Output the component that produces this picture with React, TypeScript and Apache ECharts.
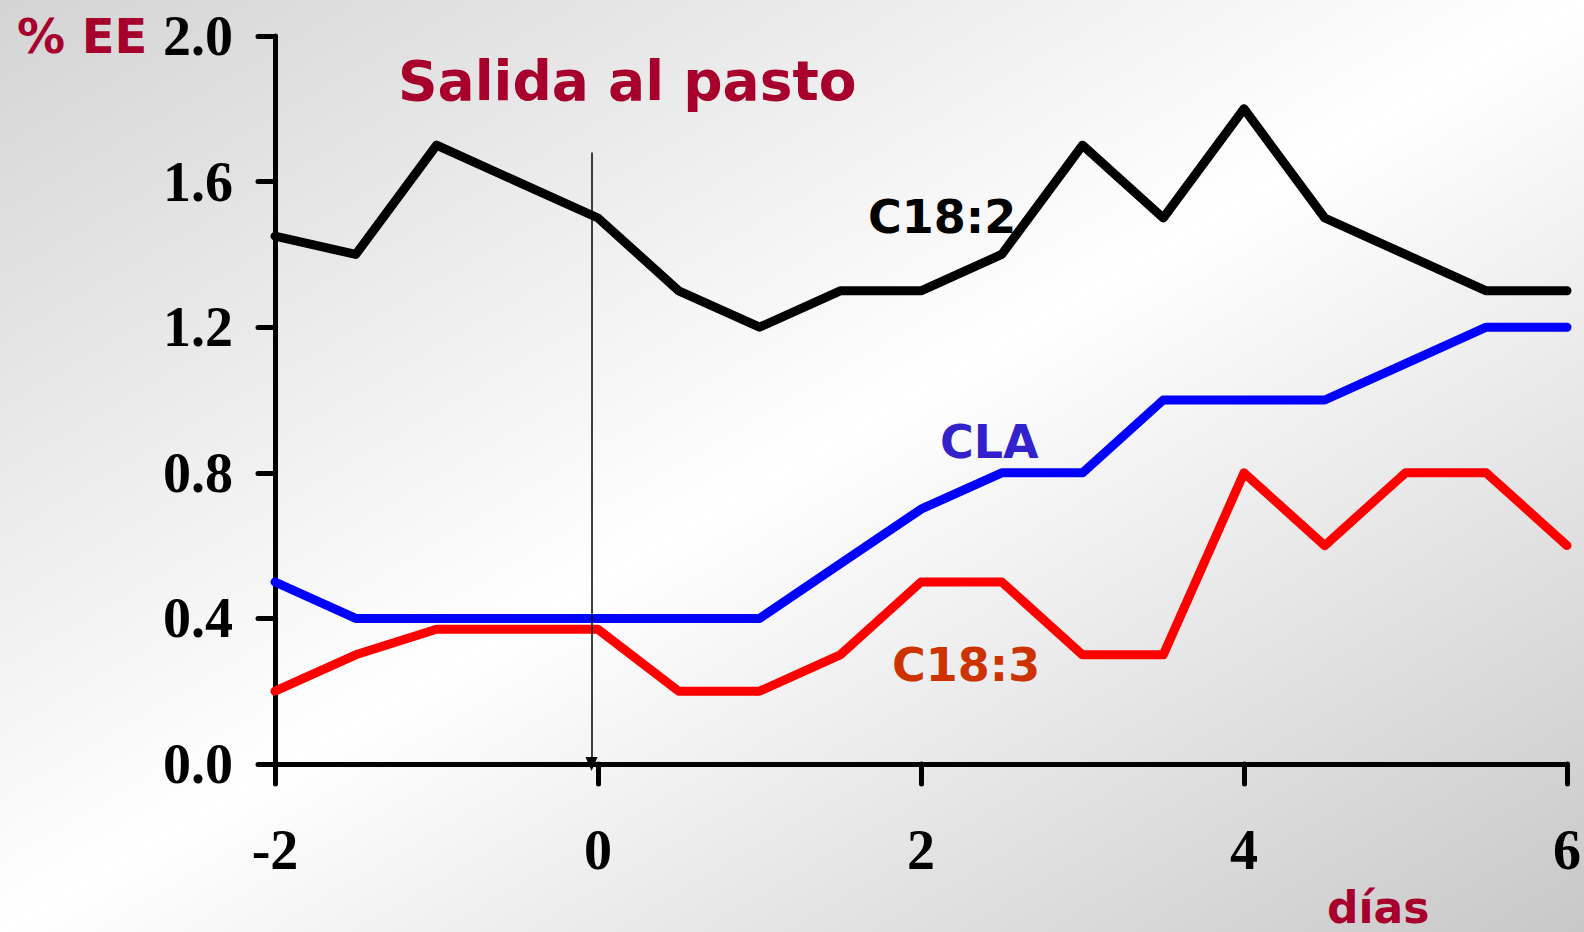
import React, { useEffect, useRef } from "react";
import * as echarts from "echarts";

const days = [-2, -1.5, -1, -0.5, 0, 0.5, 1, 1.5, 2, 2.5, 3, 3.5, 4, 4.5, 5, 5.5, 6];
const c182 = [1.45, 1.4, 1.7, 1.6, 1.5, 1.3, 1.2, 1.3, 1.3, 1.4, 1.7, 1.5, 1.8, 1.5, 1.4, 1.3, 1.3];
const cla = [0.5, 0.4, 0.4, 0.4, 0.4, 0.4, 0.4, 0.55, 0.7, 0.8, 0.8, 1.0, 1.0, 1.0, 1.1, 1.2, 1.2];
const c183 = [0.2, 0.3, 0.37, 0.37, 0.37, 0.2, 0.2, 0.3, 0.5, 0.5, 0.3, 0.3, 0.8, 0.6, 0.8, 0.8, 0.6];
const arrowDay = -0.04;
const arrowTop = 1.68;

const pair = (ys: number[]) => days.map((d, i) => [d, ys[i]]);

export default function App() {
  const ref = useRef<HTMLDivElement>(null);
  useEffect(() => {
    if (!ref.current) return;
    const chart = echarts.init(ref.current, null, { renderer: "svg" });
    const f = (s: number) => `bold ${s}px 'DejaVu Sans', sans-serif`;
    const darkRed = "#a8002c";
    const seriesLine = (color: string) => ({ color, width: 9, cap: "round", join: "round" });
    chart.setOption({
      animation: false,
      backgroundColor: "transparent",
      grid: { left: 275, right: 16, top: 36, bottom: 168, containLabel: false },
      xAxis: {
        type: "value",
        min: -2,
        max: 6,
        interval: 2,
        splitLine: { show: false },
        axisLine: { show: true, onZero: false, lineStyle: { color: "#000", width: 5, cap: "round" } },
        axisTick: { show: true, length: 20, lineStyle: { color: "#000", width: 5, cap: "round" } },
        axisLabel: {
          margin: 58,
          color: "#000",
          fontFamily: "'Liberation Serif', serif",
          fontWeight: "bold",
          fontSize: 56,
        },
      },
      yAxis: {
        type: "value",
        min: 0,
        max: 2,
        interval: 0.4,
        splitLine: { show: false },
        axisLine: { show: true, onZero: false, lineStyle: { color: "#000", width: 5, cap: "round" } },
        axisTick: { show: true, length: 17, lineStyle: { color: "#000", width: 5, cap: "round" } },
        axisLabel: {
          margin: 42,
          color: "#000",
          fontFamily: "'Liberation Serif', serif",
          fontWeight: "bold",
          fontSize: 56,
          formatter: (v: number) => v.toFixed(1),
        },
      },
      series: [
        {
          type: "line",
          name: "C18:2",
          data: pair(c182),
          symbol: "none",
          lineStyle: seriesLine("#000000"),
          z: 3,
          markLine: {
            silent: true,
            symbol: ["none", "triangle"],
            symbolSize: [12, 14],
            label: { show: false },
            lineStyle: { color: "#000", width: 1.5, type: "solid" },
            data: [[{ coord: [arrowDay, arrowTop] }, { coord: [arrowDay, 0] }]],
          },
        },
        {
          type: "line",
          name: "CLA",
          data: pair(cla),
          symbol: "none",
          lineStyle: seriesLine("#0000ff"),
          z: 2,
        },
        {
          type: "line",
          name: "C18:3",
          data: pair(c183),
          symbol: "none",
          lineStyle: seriesLine("#ff0000"),
          z: 1,
        },
      ],
      graphic: [
        { type: "text", left: 17, top: 12, style: { text: "% EE", font: f(48), fill: darkRed } },
        { type: "text", left: 398, top: 53, style: { text: "Salida al pasto", font: f(55), fill: darkRed } },
        { type: "text", left: 868, top: 194, style: { text: "C18:2", font: f(46), fill: "#000" } },
        { type: "text", left: 940, top: 419, style: { text: "CLA", font: f(46), fill: "#3322cc" } },
        { type: "text", left: 892, top: 642, style: { text: "C18:3", font: f(46), fill: "#cc3300" } },
        { type: "text", left: 1327, top: 885, style: { text: "días", font: f(44), fill: darkRed } },
      ],
    });
    return () => chart.dispose();
  }, []);
  return (
    <div
      style={{
        position: "fixed",
        left: 0,
        top: 0,
        width: 1584,
        height: 932,
        background: "linear-gradient(to bottom right, #d4d4d4 0%, #ffffff 50%, #c8c8c8 100%)",
      }}
    >
      <div ref={ref} style={{ width: 1584, height: 932 }} />
    </div>
  );
}
